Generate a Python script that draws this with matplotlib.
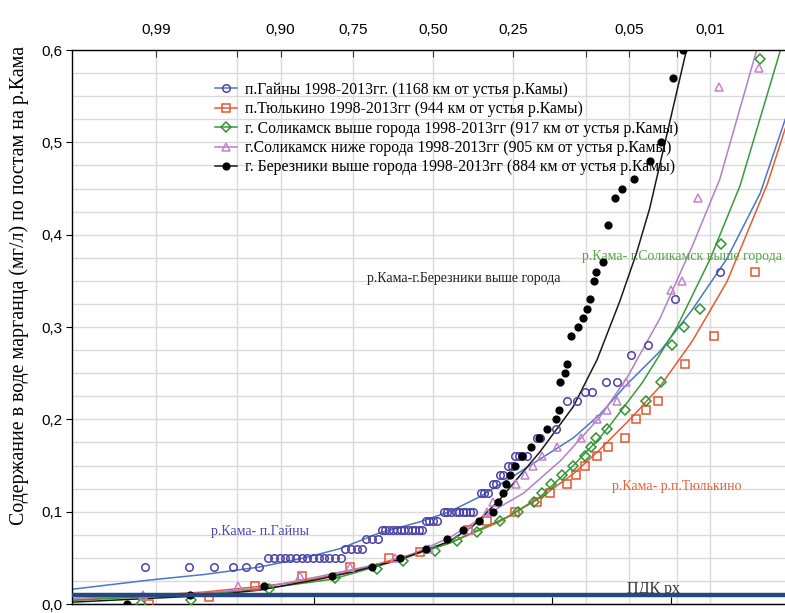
import matplotlib
matplotlib.use('Agg')
import matplotlib.pyplot as plt
from matplotlib.lines import Line2D
from statistics import NormalDist

# x = quantile of the normal distribution (probability paper), y = Mn, mg/l
gainy_z = [-2.42, -2.05, -1.84, -1.68, -1.57, -1.46,
           -1.39, -1.34, -1.29, -1.24, -1.20, -1.15, -1.10, -1.06, -1.01, -0.96, -0.92, -0.87, -0.82, -0.77,
           -0.74, -0.69, -0.64, -0.60,
           -0.56, -0.51, -0.46,
           -0.43, -0.40, -0.37, -0.34, -0.30, -0.27, -0.24, -0.21, -0.18, -0.15, -0.12, -0.09,
           -0.06, -0.03, 0.00, 0.03,
           0.09, 0.12, 0.15, 0.19, 0.22, 0.25, 0.28, 0.31, 0.34,
           0.40, 0.43, 0.46,
           0.50, 0.53,
           0.56, 0.59,
           0.63, 0.66,
           0.69, 0.72, 0.75, 0.79,
           0.87, 0.90,
           1.03,
           1.13, 1.21,
           1.28, 1.34,
           1.45, 1.55,
           1.66, 1.81, 2.03, 2.41]
gainy_mn = ([0.04] * 6 + [0.05] * 14 + [0.06] * 4 + [0.07] * 3 + [0.08] * 12 + [0.09] * 4
            + [0.10] * 9 + [0.12] * 3 + [0.13] * 2 + [0.14] * 2 + [0.15] * 2 + [0.16] * 4
            + [0.18] * 2 + [0.19] + [0.22] * 2 + [0.23] * 2 + [0.24] * 2 + [0.27, 0.28, 0.33, 0.36])

tyul_z = [-2.39, -1.88, -1.50, -1.10, -0.70, -0.37, -0.11, 0.29, 0.45, 0.69, 0.87, 0.98,
          1.13, 1.20, 1.28, 1.38, 1.47, 1.61, 1.71, 1.79, 1.89, 2.12, 2.36, 2.71]
tyul_mn = [0.0, 0.008, 0.02, 0.03, 0.04, 0.05, 0.056, 0.08, 0.09, 0.10, 0.11, 0.12,
           0.13, 0.14, 0.15, 0.16, 0.17, 0.18, 0.20, 0.21, 0.22, 0.26, 0.29, 0.36]

solv_z = [-2.45, -2.03, -1.38, -0.82, -0.47, -0.25, 0.02, 0.20, 0.37, 0.56, 0.71, 0.85, 0.92, 0.99,
          1.08, 1.18, 1.28, 1.33, 1.37, 1.46, 1.61, 1.79, 1.92, 2.01, 2.11, 2.24, 2.42, 2.75]
solv_mn = [0.0, 0.004, 0.016, 0.028, 0.038, 0.047, 0.057, 0.068, 0.078, 0.09, 0.10, 0.11, 0.12, 0.13,
           0.14, 0.15, 0.16, 0.17, 0.18, 0.19, 0.21, 0.22, 0.24, 0.28, 0.30, 0.32, 0.39, 0.59]

soln_z = [-2.44, -1.64, -1.12, -0.70, -0.32, -0.03, 0.31, 0.45, 0.50, 0.70, 0.77, 0.84,
          0.92, 1.04, 1.24, 1.38, 1.46, 1.55, 1.62, 2.00, 2.09, 2.23, 2.40, 2.74]
soln_mn = [0.01, 0.02, 0.03, 0.04, 0.05, 0.06, 0.08, 0.10, 0.11, 0.13, 0.14, 0.15,
           0.16, 0.17, 0.18, 0.20, 0.21, 0.22, 0.24, 0.34, 0.35, 0.44, 0.56, 0.58]

ber_z = [-2.57, -2.04, -1.42, -0.85, -0.51, -0.28, -0.06, 0.12, 0.25, 0.39,
         0.50, 0.55, 0.59, 0.61, 0.65, 0.69, 0.75, 0.82, 0.89, 0.96, 1.03, 1.06,
         1.07, 1.11, 1.13, 1.16, 1.22, 1.26, 1.29, 1.32, 1.35, 1.37, 1.43,
         1.47, 1.53, 1.59, 1.69, 1.82, 1.92, 2.02, 2.10]
ber_mn = [0.0, 0.01, 0.02, 0.03, 0.04, 0.05, 0.06, 0.07, 0.08, 0.09,
          0.10, 0.11, 0.12, 0.13, 0.14, 0.15, 0.16, 0.17, 0.18, 0.19, 0.20, 0.21,
          0.24, 0.25, 0.26, 0.29, 0.30, 0.31, 0.32, 0.33, 0.35, 0.36, 0.37,
          0.41, 0.44, 0.45, 0.46, 0.48, 0.50, 0.57, 0.60]

# fitted curves
gainy_fit_z = [-3.03, -2.38, -1.92, -1.46, -1.08, -0.78, -0.45, -0.11, 0.14, 0.39, 0.62, 0.90,
               1.18, 1.40, 1.63, 1.91, 2.18, 2.47, 2.75, 2.96]
gainy_fit = [0.016, 0.026, 0.032, 0.040, 0.050, 0.060, 0.077, 0.089, 0.100, 0.116, 0.134, 0.157,
             0.180, 0.205, 0.238, 0.274, 0.319, 0.374, 0.445, 0.525]
tyul_fit_z = [-3.03, -1.92, -1.46, -1.12, -0.70, -0.28, 0.14, 0.34, 0.56, 0.90, 1.18, 1.40,
              1.67, 1.91, 2.18, 2.47, 2.81, 2.96]
tyul_fit = [0.004, 0.013, 0.019, 0.024, 0.035, 0.050, 0.066, 0.077, 0.089, 0.115, 0.141, 0.167,
            0.202, 0.236, 0.285, 0.349, 0.455, 0.515]
solv_fit_z = [-3.03, -1.92, -1.46, -0.84, -0.28, 0.14, 0.34, 0.62, 0.90, 1.18, 1.40, 1.49,
              1.76, 2.05, 2.33, 2.58, 2.92]
solv_fit = [0.004, 0.011, 0.016, 0.027, 0.048, 0.066, 0.078, 0.094, 0.116, 0.150, 0.180, 0.194,
            0.240, 0.300, 0.374, 0.453, 0.600]
soln_fit_z = [-3.03, -1.92, -1.46, -0.95, -0.28, 0.14, 0.56, 0.76, 1.07, 1.40, 1.63, 1.91,
              2.18, 2.41, 2.72]
soln_fit = [0.006, 0.012, 0.017, 0.030, 0.048, 0.072, 0.105, 0.120, 0.155, 0.202, 0.245, 0.310,
            0.388, 0.460, 0.600]
ber_fit_z = [-3.03, -1.92, -1.46, -0.95, -0.70, -0.28, 0.14, 0.34, 0.56, 0.90, 1.18, 1.38,
             1.57, 1.71, 1.82, 2.13]
ber_fit = [0.002, 0.009, 0.015, 0.027, 0.034, 0.048, 0.068, 0.085, 0.113, 0.165, 0.214, 0.265,
           0.328, 0.380, 0.428, 0.600]

pdk = 0.01

top_probs = [0.99, 0.95, 0.90, 0.75, 0.50, 0.25, 0.10, 0.05, 0.02, 0.01]
top_labels = ['0,99', '', '0,90', '0,75', '0,50', '0,25', '', '0,05', '', '0,01']
y_ticks = [0.0, 0.1, 0.2, 0.3, 0.4, 0.5, 0.6]
y_labels = ['0,0', '0,1', '0,2', '0,3', '0,4', '0,5', '0,6']

series = [
    ('п.Гайны 1998-2013гг. (1168 км от устья р.Камы)', gainy_z, gainy_mn, gainy_fit_z, gainy_fit,
     'o', '#4b43a6', '#4a78c8', 'none'),
    ('п.Тюлькино 1998-2013гг (944 км от устья р.Камы)', tyul_z, tyul_mn, tyul_fit_z, tyul_fit,
     's', '#e8532c', '#e85a30', 'none'),
    ('г. Соликамск выше города 1998-2013гг (917 км от устья р.Камы)', solv_z, solv_mn, solv_fit_z, solv_fit,
     'D', '#2f962f', '#3a9a3a', 'none'),
    ('г.Соликамск ниже города 1998-2013гг (905 км от устья р.Камы)', soln_z, soln_mn, soln_fit_z, soln_fit,
     '^', '#c283cc', '#b27fcc', 'none'),
    ('г. Березники выше города 1998-2013гг (884 км от устья р.Камы)', ber_z, ber_mn, ber_fit_z, ber_fit,
     'o', '#000000', '#1a1a1a', '#000000'),
]

serif = ['Liberation Serif', 'DejaVu Serif']
sans = ['Liberation Sans', 'DejaVu Sans']

fig = plt.figure(figsize=(7.85, 6.13), dpi=100)
ax = fig.add_axes([72 / 785, 9 / 613, 713 / 785, 554 / 613])

handles = []
for label, xs, ys, fx, fy, mk, mcol, lcol, face in series:
    ax.plot(fx, fy, color=lcol, lw=1.1, zorder=2)
    ms = 4.6 if mk == 'D' else 5.4
    if face != 'none':
        ms = 4.8
    ax.plot(xs, ys, ls='none', marker=mk, ms=ms, mfc=face, mec=mcol, mew=1.1, zorder=4)
    handles.append(Line2D([0], [0], color=lcol, lw=1.1, marker=mk, ms=ms, mfc=face, mec=mcol, mew=1.1))

ax.axhline(pdk, color='#24497a', lw=3.2, zorder=5)
ax.text(1.63, 0.0165, 'ПДК рх', family=serif, fontsize=11.5, color='#333333', va='center', ha='left')

ax.text(-1.87, 0.0785, 'р.Кама- п.Гайны', family=serif, fontsize=10, color='#4a4aa8', va='center')
ax.text(-0.555, 0.352, 'р.Кама-г.Березники выше города', family=serif, fontsize=10, color='#222222', va='center')
ax.text(1.25, 0.376, 'р.Кама- г.Соликамск выше города', family=serif, fontsize=10, color='#55a545', va='center')
ax.text(1.50, 0.127, 'р.Кама- р.п.Тюлькино', family=serif, fontsize=10, color='#e0643c', va='center')

leg = ax.legend(handles, [s[0] for s in series], loc='upper left', bbox_to_anchor=(0.19, 0.957),
                frameon=False, prop={'family': serif, 'size': 11.3}, labelspacing=0.22,
                handlelength=1.4, handletextpad=0.5, borderpad=0)
leg.set_zorder(3)

ax.set_xlim(-3.034, 2.958)
ax.set_ylim(0, 0.6)

nd = NormalDist()
ax.set_xticks([nd.inv_cdf(1 - p) for p in top_probs])
ax.set_xticklabels(top_labels, family=sans, fontsize=11)
ax.xaxis.set_ticks_position('top')
ax.tick_params(axis='x', direction='in', length=5, pad=9, color='#333333')

bottom = ax.secondary_xaxis('bottom')
bottom.set_xticks([-1, 0, 1, 2])
bottom.set_xticklabels([])
bottom.tick_params(direction='in', length=5)

ax.set_yticks(y_ticks)
ax.set_yticklabels(y_labels, family=sans, fontsize=11)
ax.set_yticks([i * 0.025 for i in range(25)], minor=True)
ax.tick_params(axis='y', which='major', direction='out', length=4, pad=3)
ax.tick_params(axis='y', which='minor', length=0)

ax.grid(True, axis='y', which='both', color='#dadada', lw=1.0, zorder=0)
ax.grid(True, axis='x', which='major', color='#dadada', lw=1.0, zorder=0)
ax.set_axisbelow(True)

ax.spines['right'].set_visible(False)
for s in ['left', 'top', 'bottom']:
    ax.spines[s].set_linewidth(1.0)

ax.set_ylabel('Содержание в воде марганца (мг/л) по постам на р.Кама', family=serif, fontsize=14.3)
ax.yaxis.set_label_coords(-0.061, 0.575)

fig.savefig('out.png', dpi=100)
